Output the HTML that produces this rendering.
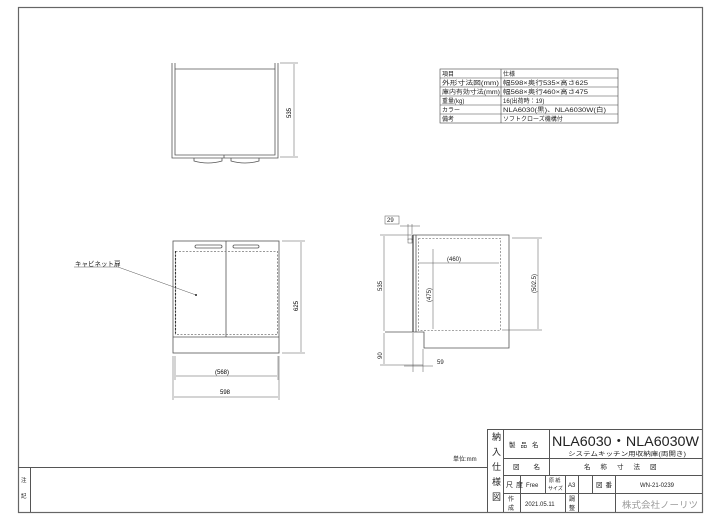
<!DOCTYPE html>
<html><head><meta charset="utf-8"><style>
html,body{margin:0;padding:0;background:#fff;}
svg{display:block;font-family:"Liberation Sans","Noto Sans CJK JP",sans-serif;}
</style></head><body>
<svg width="720" height="516" viewBox="0 0 720 516" xmlns="http://www.w3.org/2000/svg">
<g fill="none" stroke="#555" stroke-width="1">
<rect x="18.5" y="7.5" width="684" height="505" stroke="#666" stroke-width="1.2"/>
<line x1="18" y1="467.5" x2="488" y2="467.5"/>
<line x1="30.5" y1="467" x2="30.5" y2="512"/>
<line x1="487.5" y1="429" x2="487.5" y2="512"/>
<line x1="487" y1="429.5" x2="702" y2="429.5"/>
<line x1="503.5" y1="429" x2="503.5" y2="512"/>
<line x1="503" y1="458.5" x2="702" y2="458.5"/>
<line x1="503" y1="475.5" x2="702" y2="475.5"/>
<line x1="503" y1="493.5" x2="702" y2="493.5"/>
<line x1="549.5" y1="429" x2="549.5" y2="475"/>
<line x1="520.5" y1="475" x2="520.5" y2="512"/>
<line x1="545.5" y1="475" x2="545.5" y2="493"/>
<line x1="565.5" y1="475" x2="565.5" y2="512"/>
<line x1="578.5" y1="475" x2="578.5" y2="512"/>
<line x1="592.5" y1="475" x2="592.5" y2="493"/>
<line x1="615.5" y1="475" x2="615.5" y2="512"/>
</g>
<g font-size="7" fill="#222">
<text x="492" y="440" font-size="9">納</text>
<text x="492" y="455" font-size="9">入</text>
<text x="492" y="470" font-size="9">仕</text>
<text x="492" y="485" font-size="9">様</text>
<text x="492" y="500" font-size="9">図</text>
<text x="509" y="447" font-size="6.5" letter-spacing="5">製品名</text>
<text x="552" y="446" font-size="14" textLength="147" lengthAdjust="spacingAndGlyphs">NLA6030・NLA6030W</text>
<text x="568" y="456" font-size="6" textLength="118" lengthAdjust="spacingAndGlyphs">システムキッチン用収納庫(両開き)</text>
<text x="513" y="469" font-size="6.5" letter-spacing="14">図名</text>
<text x="584" y="469" font-size="6.5" letter-spacing="10">名称寸法図</text>
<text x="506" y="487" font-size="7" letter-spacing="3">尺度</text>
<text x="526" y="487" font-size="6">Free</text>
<text x="549" y="482" font-size="5">原 紙</text>
<text x="548" y="490" font-size="5">サイズ</text>
<text x="568" y="487" font-size="6">A3</text>
<text x="596" y="487" font-size="6.5" letter-spacing="3">図番</text>
<text x="640" y="487" font-size="6">WN-21-0239</text>
<text x="508" y="501" font-size="6">作</text>
<text x="508" y="510" font-size="6">成</text>
<text x="525" y="506" font-size="6">2021.05.11</text>
<text x="569" y="501" font-size="6">調</text>
<text x="569" y="510" font-size="6">整</text>
<text x="622" y="508" font-size="9" fill="#999" textLength="76" lengthAdjust="spacingAndGlyphs">株式会社ノーリツ</text>
<text x="453" y="461" font-size="6">単位:mm</text>
<text x="21" y="482" font-size="5.5">注</text>
<text x="21" y="498" font-size="5.5">記</text>
</g>
<g fill="none" stroke="#444" stroke-width="0.6">
<rect x="440" y="69" width="178" height="54"/>
<line x1="440" y1="78" x2="618" y2="78"/>
<line x1="440" y1="87" x2="618" y2="87"/>
<line x1="440" y1="96" x2="618" y2="96"/>
<line x1="440" y1="105" x2="618" y2="105"/>
<line x1="440" y1="114" x2="618" y2="114"/>
<line x1="501" y1="69" x2="501" y2="123"/>
</g>
<g font-size="6" fill="#222">
<text x="442" y="76">項目</text><text x="503" y="76">仕様</text>
<text x="442" y="85" textLength="57" lengthAdjust="spacingAndGlyphs">外形寸法図(mm)</text><text x="503" y="85" textLength="85" lengthAdjust="spacingAndGlyphs">幅598×奥行535×高さ625</text>
<text x="442" y="94" textLength="58" lengthAdjust="spacingAndGlyphs">庫内有効寸法(mm)</text><text x="503" y="94" textLength="85" lengthAdjust="spacingAndGlyphs">幅568×奥行460×高さ475</text>
<text x="442" y="103">重量(kg)</text><text x="503" y="103">16(出荷時：19)</text>
<text x="442" y="112">カラー</text><text x="503" y="112" textLength="103" lengthAdjust="spacingAndGlyphs">NLA6030(黒)、NLA6030W(白)</text>
<text x="442" y="121">備考</text><text x="503" y="121">ソフトクローズ機構付</text>
</g>
<g fill="none" stroke="#555" stroke-width="0.8">
<polyline points="172,63 172,158 278,158 278,63"/>
<polyline points="175,63 175,155 275,155 275,63"/>
<line x1="175" y1="69" x2="275" y2="69"/>
<line x1="224" y1="155" x2="224" y2="158"/>
<path d="M194,158 v3 q14,4 28,0 v-3"/>
<path d="M231,158 v3 q14,4 28,0 v-3"/>
<line x1="280" y1="63" x2="298" y2="63" stroke-width="0.5"/>
<line x1="280" y1="157" x2="298" y2="157" stroke-width="0.5"/>
<line x1="294" y1="64" x2="294" y2="156" stroke-width="0.5"/>
</g>
<text x="0" y="0" font-size="6" transform="translate(291,118) rotate(-90)">535</text>
<g fill="none" stroke="#555" stroke-width="0.8">
<rect x="173" y="241" width="106" height="112"/>
<line x1="173" y1="337" x2="279" y2="337"/>
<line x1="226" y1="241" x2="226" y2="337"/>
<rect x="195" y="245" width="27" height="3" rx="1.5"/>
<rect x="233" y="245" width="26" height="3" rx="1.5"/>
<rect x="175.5" y="251.5" width="102" height="83" stroke-dasharray="2,1.5" stroke="#777"/>
<line x1="175.5" y1="251" x2="175.5" y2="335" stroke="#333" stroke-dasharray="2,1.5" stroke-width="1.1"/>
<line x1="118" y1="267" x2="196" y2="295" stroke-width="0.5"/>
<line x1="74" y1="267" x2="118" y2="267" stroke-width="0.5"/>
<g stroke-width="0.5">
<line x1="282" y1="241" x2="305" y2="241"/>
<line x1="282" y1="353" x2="305" y2="353"/>
<line x1="301" y1="242" x2="301" y2="352"/>
<line x1="175" y1="356" x2="175" y2="380"/>
<line x1="278" y1="356" x2="278" y2="380"/>
<line x1="173" y1="356" x2="173" y2="400"/>
<line x1="279" y1="356" x2="279" y2="400"/>
<line x1="176" y1="376" x2="277" y2="376"/>
<line x1="174" y1="397" x2="278" y2="397"/>
</g>
</g>
<circle cx="196" cy="295" r="1" fill="#222"/>
<text x="75" y="266" font-size="6.5" fill="#222">キャビネット扉</text>
<text x="0" y="0" font-size="6" transform="translate(298,311) rotate(-90)">625</text>
<text x="215" y="374" font-size="6">(568)</text>
<text x="220" y="394" font-size="6">598</text>
<g fill="none" stroke="#555" stroke-width="0.8">
<line x1="413" y1="235" x2="413" y2="332" stroke="#222" stroke-width="1"/>
<line x1="416" y1="235" x2="416" y2="332"/>
<polyline points="413,235 509,235 509,348 424,348 424,332 385,332"/>
<rect x="418.5" y="238.5" width="82" height="92" stroke-dasharray="2,1.5" stroke="#888"/>
<rect x="408" y="239" width="4" height="4" stroke-width="0.5"/>
<g stroke-width="0.5">
<rect x="385" y="216" width="14" height="8"/>
<line x1="400" y1="226" x2="420" y2="226"/>
<line x1="408" y1="224" x2="408" y2="240"/>
<line x1="412" y1="224" x2="412" y2="240"/>
<line x1="419" y1="263" x2="499" y2="263"/>
<line x1="433" y1="249" x2="433" y2="329"/>
<line x1="512" y1="238" x2="542" y2="238"/>
<line x1="502" y1="330" x2="542" y2="330"/>
<line x1="538" y1="239" x2="538" y2="329"/>
<line x1="380" y1="235" x2="411" y2="235"/>
<line x1="384" y1="236" x2="384" y2="331"/>
<line x1="380" y1="365" x2="423" y2="365"/>
<line x1="384" y1="333" x2="384" y2="364"/>
<line x1="413" y1="333" x2="413" y2="372"/>
<line x1="423" y1="349" x2="423" y2="372"/>
<line x1="404" y1="366" x2="433" y2="366"/>
</g>
</g>
<g font-size="6" fill="#222">
<text x="387" y="222">29</text>
<text x="447" y="261">(460)</text>
<text x="0" y="0" transform="translate(431,302) rotate(-90)">(475)</text>
<text x="0" y="0" transform="translate(536,293) rotate(-90)">(502.5)</text>
<text x="0" y="0" transform="translate(382,291) rotate(-90)">535</text>
<text x="0" y="0" transform="translate(382,359) rotate(-90)">90</text>
<text x="437" y="364">59</text>
</g>
</svg>
</body></html>
